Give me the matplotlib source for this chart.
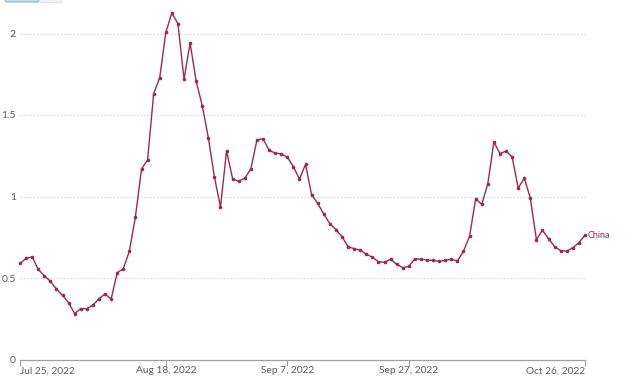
import numpy as np
import pandas as pd
import matplotlib
matplotlib.use("Agg")
import matplotlib.pyplot as plt
import matplotlib.dates as mdates
from matplotlib.patches import FancyBboxPatch

plt.rcParams["font.family"] = ["Lato", "DejaVu Sans"]

# daily values, Jul 25 2022 .. Oct 26 2022
start_date = "2022-07-25"
china = [
    0.59, 0.62, 0.63, 0.553, 0.514, 0.48, 0.432,  # Jul 25-31
    0.394, 0.349, 0.281, 0.312, 0.312, 0.334, 0.373, 0.402, 0.371, 0.533,
    0.557, 0.664, 0.876, 1.169, 1.224, 1.631, 1.729, 2.007, 2.126, 2.06,
    1.719, 1.942, 1.707, 1.557, 1.361, 1.12, 0.936, 1.279, 1.109, 1.093,
    1.113,  # Aug
    1.169, 1.347, 1.355, 1.283, 1.267, 1.261, 1.242, 1.183, 1.107, 1.197,
    1.011, 0.958, 0.893, 0.833, 0.797, 0.754, 0.692, 0.68, 0.67, 0.647,
    0.627, 0.6, 0.596, 0.615, 0.584, 0.563, 0.572, 0.617, 0.615, 0.61,  # Sep
    0.608, 0.602, 0.608, 0.615, 0.604, 0.664, 0.756, 0.985, 0.952, 1.077,
    1.334, 1.263, 1.279, 1.244, 1.052, 1.112, 0.991, 0.735, 0.793, 0.741,
    0.692, 0.667, 0.665, 0.686, 0.717, 0.762,  # Oct
]
series_label = "China"
tick_dates = ["2022-07-25", "2022-08-18", "2022-09-07", "2022-09-27", "2022-10-26"]
tick_labels = ["Jul 25, 2022", "Aug 18, 2022", "Sep 7, 2022", "Sep 27, 2022", "Oct 26, 2022"]
y_ticks = [0, 0.5, 1, 1.5, 2]
y_labels = ["0", "0.5", "1", "1.5", "2"]

dates = pd.date_range(start_date, periods=len(china), freq="D")
line_color = "#9c2a4b"
text_gray = "#5b5b5b"

fig = plt.figure(figsize=(6.36, 3.82), dpi=100)
ax = fig.add_axes([20 / 636, 22.5 / 382, 565 / 636, 358.6 / 382])

ax.plot(dates, china, color=line_color, lw=1.0, marker="o", ms=1.6,
        mec=line_color, mfc=line_color, zorder=3, clip_on=False)
ax.text(dates[-1] + pd.Timedelta(hours=10), china[-1], series_label,
        color=line_color, fontsize=6.5, va="center", ha="left")

ax.set_xlim(dates[0], dates[-1])
ax.set_ylim(0, 2.2)

for s in ["top", "right", "left"]:
    ax.spines[s].set_visible(False)
ax.spines["bottom"].set_color("#a0a0a0")
ax.spines["bottom"].set_linewidth(0.9)

ax.set_yticks(y_ticks)
ax.set_yticklabels(y_labels)
ax.tick_params(axis="y", length=0, pad=3, labelsize=7.5, labelcolor=text_gray)
for v in y_ticks[1:]:
    ax.axhline(v, color="#dadada", lw=0.8, ls=(0, (1.5, 1.5)), zorder=1)

ax.set_xticks(pd.to_datetime(tick_dates))
ax.set_xticklabels(tick_labels)
ax.tick_params(axis="x", length=4, width=0.8, color="#a0a0a0", pad=1,
               labelsize=7.3, labelcolor=text_gray)
xl = ax.get_xticklabels()
xl[0].set_ha("left")
xl[-1].set_ha("right")

# partially visible button at the top left
fig.patches.append(FancyBboxPatch((5 / 636, 380 / 382), 34 / 636, 6 / 382,
                                  boxstyle="round,pad=0,rounding_size=0.004",
                                  transform=fig.transFigure, fc="#c9dde6",
                                  ec="#8fb3c4", lw=0.8))
fig.patches.append(FancyBboxPatch((39 / 636, 380 / 382), 22 / 636, 6 / 382,
                                  boxstyle="square,pad=0",
                                  transform=fig.transFigure, fc="#f2f2f2",
                                  ec="#dddddd", lw=0.6))

fig.savefig("out.png", dpi=100)
